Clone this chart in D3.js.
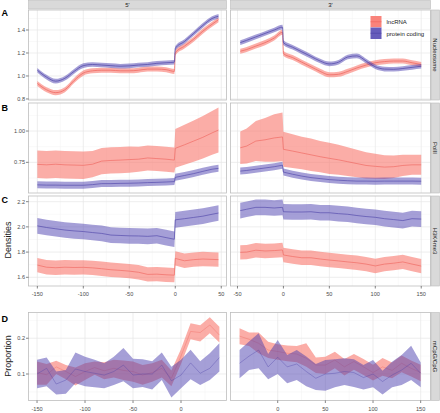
<!DOCTYPE html>
<html>
<head>
<meta charset="utf-8">
<script src="https://cdn.jsdelivr.net/npm/d3@7"></script>
<style>
  body { margin: 0; background: #fff; }
  svg { display: block; font-family: "Liberation Sans", Arial, sans-serif; }
</style>
</head>
<body>
<div id="chart"></div>
<script>
// positions (bp) relative to the 5' / 3' end
const x5 = [-150, -140, -130, -120, -110, -100, -90, -80, -70, -60, -50, -40, -30, -20, -10, -1, 0, 10, 20, 30, 40, 47];
const x3 = [-47, -40, -30, -20, -10, -1, 0, 10, 20, 30, 40, 50, 60, 70, 80, 90, 100, 110, 120, 130, 140, 150];
const xD5 = [-150, -140, -130, -120, -110, -100, -90, -80, -70, -60, -50, -40, -30, -20, -10, 0, 10, 20, 30, 40];
const xD3 = [-40, -30, -20, -10, 0, 10, 20, 30, 40, 50, 60, 70, 80, 90, 100, 110, 120, 130, 140, 150];

const groups = ["lncRNA", "protein coding"];
const colLabels = ["5'", "3'"];

// A: nucleosome densities
const nucLnc5 = [0.935, 0.88, 0.855, 0.88, 0.96, 1.025, 1.045, 1.05, 1.05, 1.045, 1.045, 1.05, 1.06, 1.06, 1.055, 1.04, 1.2, 1.26, 1.32, 1.39, 1.45, 1.49];
const nucPc5 = [1.05, 0.99, 0.955, 0.98, 1.04, 1.09, 1.1, 1.095, 1.09, 1.085, 1.088, 1.095, 1.1, 1.11, 1.115, 1.12, 1.24, 1.3, 1.37, 1.44, 1.5, 1.52];
const nucLnc3 = [1.215, 1.23, 1.26, 1.29, 1.33, 1.38, 1.195, 1.16, 1.12, 1.08, 1.04, 1.01, 1.015, 1.04, 1.07, 1.095, 1.115, 1.125, 1.13, 1.13, 1.115, 1.1];
const nucPc3 = [1.29, 1.31, 1.34, 1.37, 1.4, 1.425, 1.29, 1.25, 1.21, 1.17, 1.13, 1.105, 1.12, 1.165, 1.175, 1.13, 1.08, 1.06, 1.058, 1.065, 1.075, 1.085];
const nucHalf = [0.022, 0.02];

// B: PolII densities
const polLnc5 = [0.734, 0.73, 0.735, 0.73, 0.728, 0.726, 0.735, 0.76, 0.765, 0.768, 0.772, 0.775, 0.785, 0.78, 0.775, 0.768, 0.862, 0.89, 0.92, 0.95, 0.985, 1.008];
const polLnc5Se = [0.11, 0.11, 0.11, 0.11, 0.11, 0.11, 0.105, 0.105, 0.105, 0.105, 0.105, 0.1, 0.1, 0.1, 0.1, 0.1, 0.155, 0.16, 0.165, 0.17, 0.175, 0.18];
const polPc5 = [0.57, 0.568, 0.568, 0.567, 0.567, 0.567, 0.572, 0.58, 0.58, 0.582, 0.583, 0.585, 0.588, 0.59, 0.593, 0.596, 0.63, 0.645, 0.66, 0.678, 0.695, 0.702];
const polLnc3 = [0.866, 0.88, 0.92, 0.93, 0.945, 0.953, 0.854, 0.84, 0.825, 0.81, 0.795, 0.782, 0.77, 0.755, 0.74, 0.725, 0.718, 0.712, 0.715, 0.725, 0.73, 0.73];
const polLnc3Se = [0.13, 0.14, 0.16, 0.175, 0.19, 0.195, 0.14, 0.135, 0.13, 0.13, 0.125, 0.125, 0.12, 0.115, 0.11, 0.105, 0.1, 0.095, 0.09, 0.085, 0.08, 0.08];
const polPc3 = [0.68, 0.685, 0.695, 0.705, 0.715, 0.727, 0.672, 0.655, 0.64, 0.628, 0.62, 0.612, 0.607, 0.603, 0.6, 0.6, 0.599, 0.6, 0.6, 0.6, 0.6, 0.599];
const polPcHalf = 0.028;

// C: H3K4me3 densities
const k4Lnc5 = [1.697, 1.68, 1.676, 1.68, 1.678, 1.679, 1.675, 1.668, 1.66, 1.655, 1.649, 1.64, 1.623, 1.625, 1.62, 1.617, 1.75, 1.731, 1.74, 1.745, 1.742, 1.74];
const k4Pc5 = [2.008, 1.995, 1.985, 1.975, 1.968, 1.963, 1.955, 1.948, 1.935, 1.932, 1.929, 1.928, 1.925, 1.93, 1.915, 1.902, 2.056, 2.065, 2.075, 2.085, 2.1, 2.11];
const k4Lnc3 = [1.798, 1.8, 1.815, 1.809, 1.812, 1.817, 1.777, 1.765, 1.755, 1.755, 1.745, 1.737, 1.73, 1.722, 1.715, 1.705, 1.69, 1.705, 1.712, 1.722, 1.705, 1.689];
const k4Pc3 = [2.129, 2.14, 2.155, 2.155, 2.15, 2.155, 2.12, 2.118, 2.118, 2.12, 2.112, 2.112, 2.105, 2.1, 2.09, 2.082, 2.076, 2.065, 2.058, 2.05, 2.065, 2.062];
const k4Half = [0.057, 0.062];

// D: mCpG/CpG proportion (mean, lower, upper)
const mLnc5 = [0.104, 0.098, 0.12, 0.107, 0.093, 0.107, 0.118, 0.109, 0.116, 0.11, 0.107, 0.097, 0.104, 0.116, 0.088, 0.15, 0.219, 0.216, 0.237, 0.209];
const mLnc5Lo = [0.07, 0.07, 0.1, 0.085, 0.068, 0.083, 0.098, 0.085, 0.09, 0.083, 0.078, 0.07, 0.078, 0.09, 0.066, 0.128, 0.197, 0.191, 0.214, 0.188];
const mLnc5Hi = [0.135, 0.128, 0.137, 0.125, 0.118, 0.13, 0.135, 0.133, 0.14, 0.138, 0.135, 0.125, 0.13, 0.14, 0.11, 0.17, 0.242, 0.236, 0.259, 0.232];
const mPc5 = [0.1, 0.116, 0.072, 0.083, 0.114, 0.107, 0.102, 0.097, 0.107, 0.125, 0.097, 0.1, 0.1, 0.125, 0.081, 0.097, 0.131, 0.102, 0.116, 0.146];
const mPc5Lo = [0.06, 0.066, 0.043, 0.045, 0.074, 0.066, 0.063, 0.06, 0.069, 0.08, 0.06, 0.064, 0.057, 0.083, 0.034, 0.06, 0.085, 0.069, 0.083, 0.107];
const mPc5Hi = [0.14, 0.146, 0.107, 0.111, 0.16, 0.148, 0.14, 0.13, 0.148, 0.173, 0.143, 0.141, 0.136, 0.16, 0.12, 0.14, 0.168, 0.136, 0.158, 0.186];
const mLnc3 = [0.206, 0.197, 0.186, 0.167, 0.163, 0.158, 0.156, 0.144, 0.125, 0.125, 0.139, 0.12, 0.135, 0.12, 0.104, 0.12, 0.11, 0.13, 0.116, 0.104];
const mLnc3Lo = [0.183, 0.178, 0.158, 0.145, 0.14, 0.136, 0.133, 0.12, 0.103, 0.1, 0.116, 0.096, 0.112, 0.097, 0.082, 0.095, 0.088, 0.105, 0.093, 0.08];
const mLnc3Hi = [0.228, 0.216, 0.216, 0.19, 0.183, 0.18, 0.178, 0.186, 0.146, 0.148, 0.162, 0.142, 0.156, 0.142, 0.126, 0.145, 0.132, 0.152, 0.138, 0.126];
const mPc3 = [0.13, 0.15, 0.167, 0.12, 0.147, 0.12, 0.128, 0.107, 0.088, 0.1, 0.102, 0.107, 0.104, 0.09, 0.1, 0.079, 0.097, 0.111, 0.13, 0.102];
const mPc3Lo = [0.088, 0.111, 0.116, 0.085, 0.1, 0.074, 0.083, 0.066, 0.055, 0.053, 0.063, 0.069, 0.064, 0.057, 0.063, 0.043, 0.063, 0.069, 0.083, 0.063];
const mPc3Hi = [0.167, 0.191, 0.214, 0.156, 0.195, 0.153, 0.167, 0.149, 0.128, 0.139, 0.141, 0.144, 0.141, 0.125, 0.139, 0.109, 0.134, 0.153, 0.179, 0.132];

// helpers
function band(xs, mean, half) {
  return xs.map((x, i) => {
    const h = Array.isArray(half) ? half[i] : half;
    return { x, m: mean[i], lo: mean[i] - h, hi: mean[i] + h };
  });
}
function bandLoHi(xs, mean, lo, hi) {
  return xs.map((x, i) => ({ x, m: mean[i], lo: lo[i], hi: hi[i] }));
}

const W = 440, H = 413;
const cols = [
  { x0: 28.5, x1: 226.5 },
  { x0: 230.5, x1: 430.5 },
];
const fill = ["#F8766D", "#4B3FAF"];
const lineCol = ["#EE625A", "#4A40A6"];
const fillOp = [0.6, 0.5];

const panels = [
  {
    tag: "A", strip: "Nucleosome", y0: 10, y1: 100, yDom: [0.791, 1.574],
    yTicks: [0.8, 1.0, 1.2, 1.4], yMinor: [0.9, 1.1, 1.3, 1.5], fmt: ".1f",
    xDom: [[-159.6, 55.7], [-57.6, 160.1]], xTicks: [[-150, -100, -50, 0, 50], [-50, 0, 50, 100, 150]],
    curve: d3.curveMonotoneX, lw: 0.7, showX: false,
    series: [
      [band(x5, nucLnc5, nucHalf[0]), band(x5, nucPc5, nucHalf[1])],
      [band(x3, nucLnc3, nucHalf[0]), band(x3, nucPc3, nucHalf[1])],
    ],
  },
  {
    tag: "B", strip: "PolII", y0: 103, y1: 193, yDom: [0.505, 1.224],
    yTicks: [0.75, 1.0], yMinor: [0.625, 0.875, 1.125], fmt: ".2f",
    xDom: [[-159.6, 55.7], [-57.6, 160.1]], xTicks: [[-150, -100, -50, 0, 50], [-50, 0, 50, 100, 150]],
    curve: d3.curveLinear, lw: 0.6, showX: false,
    series: [
      [band(x5, polLnc5, polLnc5Se), band(x5, polPc5, polPcHalf)],
      [band(x3, polLnc3, polLnc3Se), band(x3, polPc3, polPcHalf)],
    ],
  },
  {
    tag: "C", strip: "H3K4me3", y0: 196, y1: 286, yDom: [1.531, 2.245],
    yTicks: [1.6, 1.8, 2.0, 2.2], yMinor: [1.7, 1.9, 2.1], fmt: ".1f",
    xDom: [[-159.6, 55.7], [-57.6, 160.1]], xTicks: [[-150, -100, -50, 0, 50], [-50, 0, 50, 100, 150]],
    curve: d3.curveLinear, lw: 0.6, showX: true,
    series: [
      [band(x5, k4Lnc5, k4Half[0]), band(x5, k4Pc5, k4Half[1])],
      [band(x3, k4Lnc3, k4Half[0]), band(x3, k4Pc3, k4Half[1])],
    ],
  },
  {
    tag: "D", strip: "mCpG/CpG", y0: 312.5, y1: 400.5, yDom: [0.0259, 0.272],
    yTicks: [0.1, 0.2], yMinor: [0.05, 0.15, 0.25], fmt: ".1f",
    xDom: [[-158.9, 47.4], [-49.5, 160.3]], xTicks: [[-150, -100, -50, 0], [0, 50, 100, 150]],
    curve: d3.curveLinear, lw: 0.5, showX: true,
    series: [
      [bandLoHi(xD5, mLnc5, mLnc5Lo, mLnc5Hi), bandLoHi(xD5, mPc5, mPc5Lo, mPc5Hi)],
      [bandLoHi(xD3, mLnc3, mLnc3Lo, mLnc3Hi), bandLoHi(xD3, mPc3, mPc3Lo, mPc3Hi)],
    ],
  },
];

const svg = d3.select("#chart").append("svg")
  .attr("width", W).attr("height", H)
  .attr("viewBox", `0 0 ${W} ${H}`);

const defs = svg.append("defs");

// top strips
cols.forEach((c, ci) => {
  svg.append("rect")
    .attr("x", c.x0).attr("y", 0.5)
    .attr("width", c.x1 - c.x0).attr("height", 8.5)
    .attr("fill", "#d9d9d9").attr("stroke", "#bdbdbd").attr("stroke-width", 0.6);
  svg.append("text")
    .attr("x", (c.x0 + c.x1) / 2).attr("y", 7)
    .attr("text-anchor", "middle")
    .style("font-size", "6px").style("fill", "#1a1a1a")
    .text(colLabels[ci]);
});

panels.forEach((p, pi) => {
  const y = d3.scaleLinear().domain(p.yDom).range([p.y1, p.y0]);

  cols.forEach((c, ci) => {
    const x = d3.scaleLinear().domain(p.xDom[ci]).range([c.x0, c.x1]);
    const g = svg.append("g");

    // background + grid
    g.append("rect")
      .attr("x", c.x0).attr("y", p.y0)
      .attr("width", c.x1 - c.x0).attr("height", p.y1 - p.y0)
      .attr("fill", "#fff");

    const ticks = p.xTicks[ci];
    const minorX = d3.pairs(ticks).map(([a, b]) => (a + b) / 2);
    const lo = ticks[0] - (ticks[1] - ticks[0]) / 2;
    const hi = ticks[ticks.length - 1] + (ticks[1] - ticks[0]) / 2;
    [lo, hi].forEach((v) => {
      if (v > p.xDom[ci][0] && v < p.xDom[ci][1]) minorX.push(v);
    });

    g.selectAll(".gxm").data(minorX).enter().append("line")
      .attr("x1", (d) => x(d)).attr("x2", (d) => x(d))
      .attr("y1", p.y0).attr("y2", p.y1)
      .attr("stroke", "#f2f2f2").attr("stroke-width", 0.5);
    g.selectAll(".gym").data(p.yMinor.filter((v) => v > p.yDom[0] && v < p.yDom[1])).enter().append("line")
      .attr("x1", c.x0).attr("x2", c.x1)
      .attr("y1", (d) => y(d)).attr("y2", (d) => y(d))
      .attr("stroke", "#f2f2f2").attr("stroke-width", 0.5);
    g.selectAll(".gx").data(ticks).enter().append("line")
      .attr("x1", (d) => x(d)).attr("x2", (d) => x(d))
      .attr("y1", p.y0).attr("y2", p.y1)
      .attr("stroke", "#e6e6e6").attr("stroke-width", 0.7);
    g.selectAll(".gy").data(p.yTicks).enter().append("line")
      .attr("x1", c.x0).attr("x2", c.x1)
      .attr("y1", (d) => y(d)).attr("y2", (d) => y(d))
      .attr("stroke", "#e6e6e6").attr("stroke-width", 0.7);

    // clip
    const clipId = `clip-${pi}-${ci}`;
    defs.append("clipPath").attr("id", clipId)
      .append("rect")
      .attr("x", c.x0).attr("y", p.y0)
      .attr("width", c.x1 - c.x0).attr("height", p.y1 - p.y0);
    const plot = g.append("g").attr("clip-path", `url(#${clipId})`);

    const area = d3.area()
      .x((d) => x(d.x)).y0((d) => y(d.lo)).y1((d) => y(d.hi))
      .curve(p.curve);
    const line = d3.line()
      .x((d) => x(d.x)).y((d) => y(d.m))
      .curve(p.curve);

    p.series[ci].forEach((s, si) => {
      plot.append("path")
        .attr("d", area(s))
        .attr("fill", fill[si]).attr("fill-opacity", fillOp[si]);
      plot.append("path")
        .attr("d", line(s))
        .attr("fill", "none")
        .attr("stroke", lineCol[si]).attr("stroke-width", p.lw)
        .attr("stroke-opacity", pi === 3 ? 0.7 : 1);
    });

    // border
    g.append("rect")
      .attr("x", c.x0).attr("y", p.y0)
      .attr("width", c.x1 - c.x0).attr("height", p.y1 - p.y0)
      .attr("fill", "none").attr("stroke", "#bdbdbd").attr("stroke-width", 0.8);

    // x axis
    if (p.showX) {
      const ax = g.append("g");
      ticks.forEach((t) => {
        ax.append("line")
          .attr("x1", x(t)).attr("x2", x(t))
          .attr("y1", p.y1).attr("y2", p.y1 + 2.5)
          .attr("stroke", "#333").attr("stroke-width", 0.6);
        ax.append("text")
          .attr("x", x(t)).attr("y", p.y1 + 10)
          .attr("text-anchor", "middle")
          .style("font-size", "5.6px").style("fill", "#4d4d4d")
          .text(t);
      });
    }

    // y axis on the left column only
    if (ci === 0) {
      const fmt = d3.format(p.fmt);
      p.yTicks.forEach((t) => {
        g.append("line")
          .attr("x1", c.x0 - 2.5).attr("x2", c.x0)
          .attr("y1", y(t)).attr("y2", y(t))
          .attr("stroke", "#333").attr("stroke-width", 0.6);
        g.append("text")
          .attr("x", c.x0 - 3.5).attr("y", y(t) + 2)
          .attr("text-anchor", "end")
          .style("font-size", "5.6px").style("fill", "#4d4d4d")
          .text(fmt(t));
      });
    }
  });

  // right strip
  svg.append("rect")
    .attr("x", 431).attr("y", p.y0)
    .attr("width", 8.5).attr("height", p.y1 - p.y0)
    .attr("fill", "#d9d9d9").attr("stroke", "#bdbdbd").attr("stroke-width", 0.6);
  svg.append("text")
    .attr("transform", `translate(${433.2},${(p.y0 + p.y1) / 2}) rotate(90)`)
    .attr("text-anchor", "middle")
    .style("font-size", "6px").style("fill", "#1a1a1a")
    .text(p.strip);

  // panel tag
  svg.append("text")
    .attr("x", 1.5).attr("y", [16, 111, 203, 322][pi])
    .style("font-size", "9px").style("font-weight", "bold")
    .text(p.tag);
});

// y titles
svg.append("text")
  .attr("transform", "translate(10.5,240) rotate(-90)")
  .attr("text-anchor", "middle")
  .style("font-size", "9px").style("fill", "#1a1a1a")
  .text("Densities");
svg.append("text")
  .attr("transform", "translate(10.5,356) rotate(-90)")
  .attr("text-anchor", "middle")
  .style("font-size", "9px").style("fill", "#1a1a1a")
  .text("Proportion");

// legend
const leg = svg.append("g").attr("transform", "translate(370.5,16)");
groups.forEach((name, i) => {
  leg.append("rect")
    .attr("x", 0).attr("y", i * 11.5)
    .attr("width", 11).attr("height", 11.5)
    .attr("fill", "#fff");
  leg.append("rect")
    .attr("x", 0).attr("y", i * 11.5)
    .attr("width", 11).attr("height", 11.5)
    .attr("fill", fill[i]).attr("fill-opacity", i === 0 ? 0.9 : 0.85);
  leg.append("line")
    .attr("x1", 0).attr("x2", 11)
    .attr("y1", i * 11.5 + 5.75).attr("y2", i * 11.5 + 5.75)
    .attr("stroke", lineCol[i]).attr("stroke-width", 0.6);
  leg.append("text")
    .attr("x", 16).attr("y", i * 11.5 + 8)
    .style("font-size", "6px").style("fill", "#1a1a1a")
    .text(name);
});
</script>
</body>
</html>
